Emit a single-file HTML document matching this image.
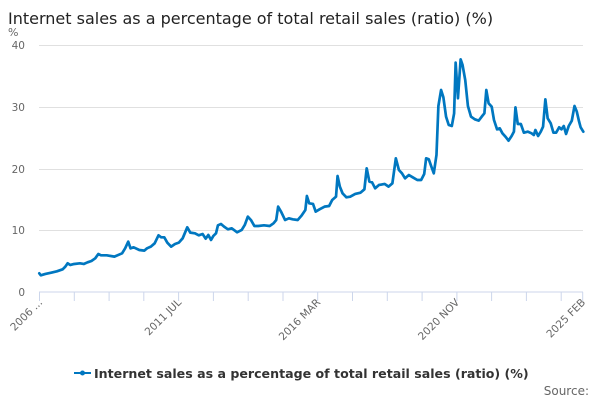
<!DOCTYPE html>
<html><head><meta charset="utf-8"><style>
html,body{margin:0;padding:0;background:#fff;}
svg{display:block;font-family:"DejaVu Sans","Liberation Sans",sans-serif;}
</style></head><body>
<svg width="600" height="400" viewBox="0 0 600 400" xmlns="http://www.w3.org/2000/svg">
<text x="8" y="24" font-size="16" fill="#222">Internet sales as a percentage of total retail sales (ratio) (%)</text>
<text x="8" y="36" font-size="11" fill="#666">%</text>
<g stroke="#e0e0e0" stroke-width="1">
<line x1="39" y1="45.5" x2="583" y2="45.5"/>
<line x1="39" y1="107.5" x2="583" y2="107.5"/>
<line x1="39" y1="169.5" x2="583" y2="169.5"/>
<line x1="39" y1="230.5" x2="583" y2="230.5"/>
</g>
<line x1="39" y1="292" x2="583" y2="292" stroke="#ccd6eb" stroke-width="1"/>
<g font-size="10.5" fill="#666" text-anchor="end">
<text x="25" y="49">40</text>
<text x="25" y="111">30</text>
<text x="25" y="173">20</text>
<text x="25" y="234">10</text>
<text x="25" y="296">0</text>
</g>
<g stroke="#ccd6eb" stroke-width="1">
<line x1="39.5" y1="292" x2="39.5" y2="301"/><line x1="74.3" y1="292" x2="74.3" y2="301"/><line x1="109.1" y1="292" x2="109.1" y2="301"/><line x1="143.8" y1="292" x2="143.8" y2="301"/><line x1="178.6" y1="292" x2="178.6" y2="301"/><line x1="213.4" y1="292" x2="213.4" y2="301"/><line x1="248.2" y1="292" x2="248.2" y2="301"/><line x1="283" y1="292" x2="283" y2="301"/><line x1="317.7" y1="292" x2="317.7" y2="301"/><line x1="352.5" y1="292" x2="352.5" y2="301"/><line x1="387.3" y1="292" x2="387.3" y2="301"/><line x1="422.1" y1="292" x2="422.1" y2="301"/><line x1="456.9" y1="292" x2="456.9" y2="301"/><line x1="491.6" y1="292" x2="491.6" y2="301"/><line x1="526.4" y1="292" x2="526.4" y2="301"/><line x1="561.2" y1="292" x2="561.2" y2="301"/><line x1="582.7" y1="292" x2="582.7" y2="301"/>
</g>
<g font-size="10.5" fill="#666" text-anchor="end">
<text transform="translate(43,303) rotate(-45)">2006 ...</text>
<text transform="translate(182,303) rotate(-45)">2011 JUL</text>
<text transform="translate(321,303) rotate(-45)">2016 MAR</text>
<text transform="translate(460,303) rotate(-45)">2020 NOV</text>
<text transform="translate(586,303) rotate(-45)">2025 FEB</text>
</g>
<g transform="matrix(0.3834 0 0 0.3333 -0.6 0)">
<polyline fill="none" stroke="#0077c0" stroke-width="2.7" vector-effect="non-scaling-stroke" stroke-linejoin="round" stroke-linecap="round" points="104,820 108,826 120,822 135,818 150,814 165,808 172,800 178,790 185,795 195,792 210,790 220,792 230,787 240,783 250,775 258,762 265,766 280,766 300,770 320,760 328,745 336,725 342,745 350,742 365,750 378,752 385,745 395,740 405,730 415,706 422,712 430,712 438,728 448,740 458,732 468,728 478,715 490,682 498,698 510,700 520,706 530,702 538,716 545,705 552,720 558,708 565,700 570,676 578,672 586,680 596,688 606,685 620,697 632,690 640,675 648,650 656,660 665,678 675,678 690,676 705,678 715,670 722,660 727,620 735,636 745,660 755,655 765,658 778,660 788,647 798,630 802,588 808,610 818,612 825,635 835,628 848,620 860,618 868,600 878,590 882,528 888,560 895,580 905,592 915,590 928,582 942,578 952,568 958,505 965,545 972,547 980,565 990,555 1005,552 1015,560 1025,550 1034,475 1042,510 1050,520 1058,535 1068,525 1078,532 1090,540 1100,540 1108,522 1113,475 1120,478 1126,498 1133,520 1140,465 1145,318 1152,270 1158,292 1165,350 1172,375 1180,378 1186,340 1190,188 1196,295 1203,178 1208,195 1215,240 1222,318 1230,350 1240,358 1250,362 1258,350 1265,340 1270,270 1276,310 1284,320 1290,360 1298,388 1305,385 1312,400 1320,410 1328,422 1336,408 1342,395 1346,322 1352,372 1360,372 1368,398 1378,395 1388,400 1394,405 1398,390 1405,408 1412,395 1418,380 1424,298 1430,355 1438,370 1445,398 1452,398 1460,382 1466,388 1472,378 1478,402 1485,378 1493,362 1500,318 1506,335 1512,365 1516,382 1523,395"/>
</g>
<line x1="74" y1="373" x2="91" y2="373" stroke="#0077c0" stroke-width="2"/>
<circle cx="82.5" cy="373" r="2.5" fill="#0077c0"/>
<text x="94" y="378" font-size="12.6" font-weight="bold" fill="#333">Internet sales as a percentage of total retail sales (ratio) (%)</text>
<text x="589" y="395" font-size="12" fill="#666" text-anchor="end">Source:</text>
</svg>
</body></html>
